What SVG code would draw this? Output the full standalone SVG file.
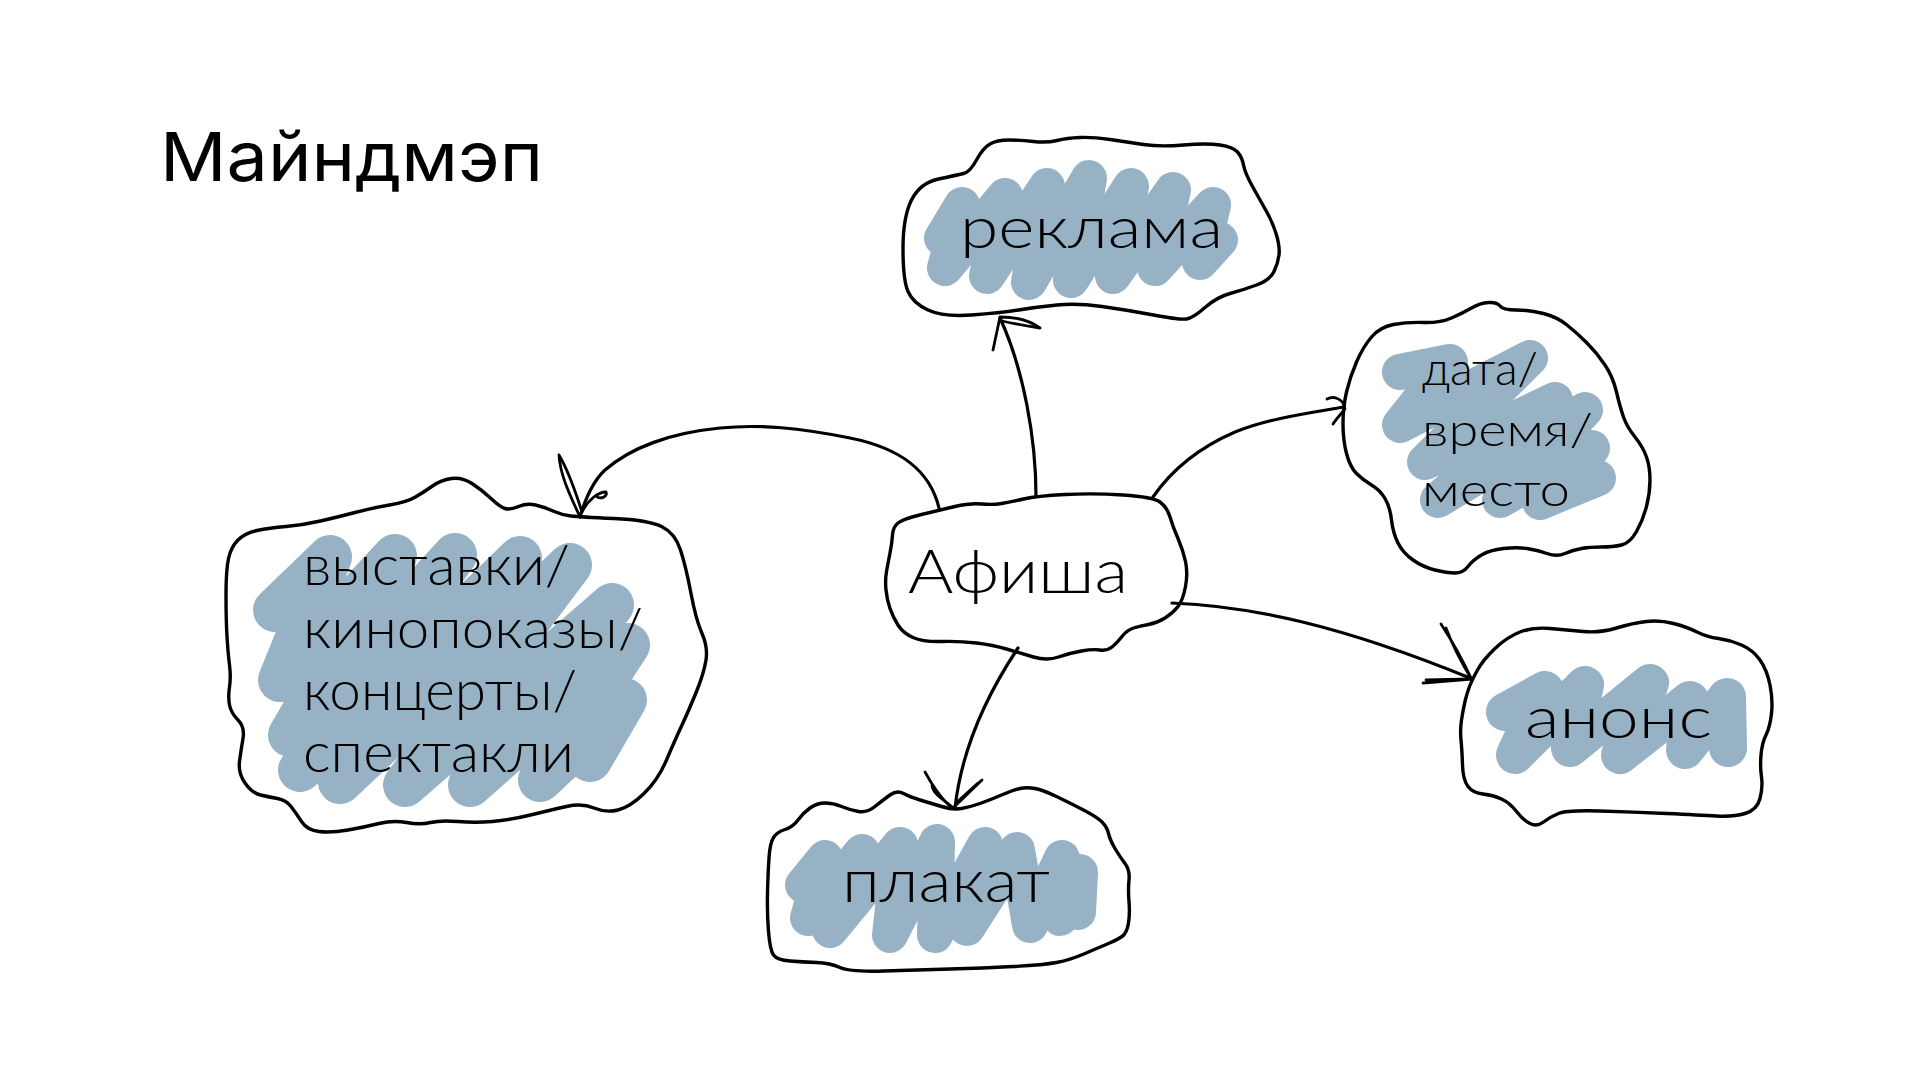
<svg xmlns="http://www.w3.org/2000/svg" width="1920" height="1080" viewBox="0 0 1920 1080">
<style>
.bg{fill:#ffffff}
.cloud{fill:#ffffff;stroke:#000;stroke-width:3.4;stroke-linejoin:round}
.scrib{fill:none;stroke:#97B2C5;stroke-linecap:round;stroke-linejoin:round}
.lbl{font-family:"Lato","Inter","Noto Sans",sans-serif;font-weight:300;fill:#000}
.title{font-family:"Inter","Noto Sans","DejaVu Sans",sans-serif;font-weight:400;fill:#000}
.conn{fill:none;stroke:#000;stroke-width:3.2;stroke-linecap:round;stroke-linejoin:round}
.head{fill:none;stroke:#000;stroke-width:2.8;stroke-linecap:round;stroke-linejoin:round}
</style>
<rect class="bg" x="0" y="0" width="1920" height="1080"/>
<text id="title" class="title" x="160" y="181" font-size="68" textLength="383" lengthAdjust="spacingAndGlyphs">Майндмэп</text>

<g id="node-reklama">
<path class="cloud" d="M 976.5,160 Q 983,148 990,144 Q 997,140 1008.5,140 Q 1020,140 1033.5,141.5 Q 1047,143 1057,140.5 Q 1067,138 1080,137.5 Q 1093,137 1110,139.5 Q 1127,142 1143.5,144.5 Q 1160,147 1183.5,145 Q 1207,143 1220,145 Q 1233,147 1237.5,152 Q 1242,157 1243.5,165 Q 1245,173 1252.5,186.5 Q 1260,200 1266.5,211.5 Q 1273,223 1276.5,235 Q 1280,247 1279,255 Q 1278,263 1274,271.5 Q 1270,280 1256.5,285 Q 1243,290 1230,293.5 Q 1217,297 1205,307.5 Q 1193,318 1186.5,319 Q 1180,320 1153.5,315 Q 1127,310 1102,306.5 Q 1077,303 1057,305 Q 1037,307 1018.5,310 Q 1000,313 971.5,315 Q 943,317 928,310 Q 913,303 908,291.5 Q 903,280 903,248.5 Q 903,217 911.5,200 Q 920,183 938.5,179 Q 957,175 963.5,173.5 Q 970,172 976.5,160 Z"/>
<path class="scrib" stroke-width="36" d="M 942,238 L 962,205 L 945,268 L 1005,196 L 987,276 L 1047,186 L 1029,282 L 1089,178 L 1071,280 L 1131,186 L 1113,276 L 1173,190 L 1155,268 L 1213,205 L 1200,262 L 1220,240"/>
<text class="lbl" x="960" y="248" font-size="58" textLength="263" lengthAdjust="spacingAndGlyphs">реклама</text>
</g>

<g id="node-afisha">
<path class="cloud" d="M 892.5,535 Q 893,527 898,523 Q 903,519 921.5,514.5 Q 940,510 955,506.5 Q 970,503 981.5,504 Q 993,505 1001.5,503.5 Q 1010,502 1023.5,499 Q 1037,496 1065,494.5 Q 1093,493 1123,495 Q 1153,497 1160,502 Q 1167,507 1170,517 Q 1173,527 1178,538.5 Q 1183,550 1185.5,561.5 Q 1188,573 1185.5,586.5 Q 1183,600 1178,606.5 Q 1173,613 1165,618 Q 1157,623 1148.5,624.5 Q 1140,626 1133.5,628 Q 1127,630 1122,636.5 Q 1117,643 1112,647 Q 1107,651 1100,650 Q 1093,649 1081.5,651 Q 1070,653 1058.5,657 Q 1047,661 1033.5,657 Q 1020,653 1006.5,649 Q 993,645 976.5,643 Q 960,641 941.5,641.5 Q 923,642 913,637.5 Q 903,633 898,625 Q 893,617 890,608.5 Q 887,600 886,590 Q 885,580 886.5,571.5 Q 888,563 890,553 Q 892,543 892.5,535 Z"/>
<text class="lbl" x="908" y="593" font-size="62" textLength="220" lengthAdjust="spacingAndGlyphs">Афиша</text>
</g>

<g id="node-vystavki">
<path class="cloud" d="M 571,516 Q 580,517 614,518.5 Q 648,520 661.5,526.5 Q 675,533 680.5,550 Q 686,567 691,593.5 Q 696,620 702,633.5 Q 708,647 706,660 Q 704,673 696.5,691.5 Q 689,710 682,725 Q 675,740 666.5,760 Q 658,780 644,793.5 Q 630,807 618,810 Q 606,813 594,808 Q 582,803 566.5,806.5 Q 551,810 530.5,815 Q 510,820 492.5,821.5 Q 475,823 458,821.5 Q 441,820 430.5,822.5 Q 420,825 406.5,822.5 Q 393,820 379,823.5 Q 365,827 348,830 Q 331,833 319,831.5 Q 307,830 301.5,821.5 Q 296,813 291,806.5 Q 286,800 277.5,798.5 Q 269,797 260.5,795 Q 252,793 245,783 Q 238,773 239.5,761.5 Q 241,750 243,738.5 Q 245,727 238,720 Q 231,713 229.5,705 Q 228,697 229.5,687 Q 231,677 229.5,665 Q 228,653 227,636.5 Q 226,620 226,595 Q 226,570 228.5,558.5 Q 231,547 238,540 Q 245,533 257,530.5 Q 269,528 286,526.5 Q 303,525 320.5,521 Q 338,517 355,512.5 Q 372,508 389.5,505 Q 407,502 415.5,497 Q 424,492 432.5,486 Q 441,480 451.5,478.5 Q 462,477 472,483.5 Q 482,490 491,498.5 Q 500,507 505,508.5 Q 510,510 518.5,506.5 Q 527,503 535.5,505 Q 544,507 553,511 Q 562,515 571,516 Z"/>
<path class="scrib" stroke-width="44" d="M 275,610 L 330,557 L 280,680 L 395,556 L 290,735 L 455,555 L 300,770 L 520,558 L 340,782 L 570,565 L 405,785 L 612,605 L 470,785 L 628,645 L 540,780 L 625,700 L 590,760"/>
<text class="lbl" font-size="55">
<tspan x="303" y="585" textLength="267" lengthAdjust="spacingAndGlyphs">выставки/</tspan>
<tspan x="303" y="648" textLength="340" lengthAdjust="spacingAndGlyphs">кинопоказы/</tspan>
<tspan x="303" y="710" textLength="274" lengthAdjust="spacingAndGlyphs">концерты/</tspan>
<tspan x="303" y="772" textLength="271" lengthAdjust="spacingAndGlyphs">спектакли</tspan>
</text>
</g>

<g id="node-data">
<path class="cloud" d="M 1343,423.5 Q 1343,407 1346.5,392 Q 1350,377 1356.5,362 Q 1363,347 1371.5,337 Q 1380,327 1393.5,324.5 Q 1407,322 1423.5,322.5 Q 1440,323 1451.5,318 Q 1463,313 1471.5,308 Q 1480,303 1488.5,302.5 Q 1497,302 1500,306 Q 1503,310 1516.5,310 Q 1530,310 1543.5,313.5 Q 1557,317 1567,325 Q 1577,333 1587,343 Q 1597,353 1605,365 Q 1613,377 1616.5,392 Q 1620,407 1623.5,417 Q 1627,427 1635,437 Q 1643,447 1646.5,457 Q 1650,467 1650,480 Q 1650,493 1646.5,506.5 Q 1643,520 1636.5,531.5 Q 1630,543 1621.5,545 Q 1613,547 1601.5,547 Q 1590,547 1581.5,548.5 Q 1573,550 1565,553.5 Q 1557,557 1547,553.5 Q 1537,550 1527,548.5 Q 1517,547 1503.5,548.5 Q 1490,550 1481.5,555 Q 1473,560 1468,566.5 Q 1463,573 1455,573 Q 1447,573 1435,570 Q 1423,567 1413,560 Q 1403,553 1398,543 Q 1393,533 1391.5,520 Q 1390,507 1385,498.5 Q 1380,490 1371.5,485 Q 1363,480 1356.5,473.5 Q 1350,467 1346.5,453.5 Q 1343,440 1343,423.5 Z"/>
<path class="scrib" stroke-width="36" d="M 1400,372 L 1450,362 L 1400,425 L 1530,358 L 1425,462 L 1555,400 L 1438,500 L 1585,410 L 1500,500 L 1592,448 L 1540,502 L 1598,478"/>
<text class="lbl" font-size="45">
<tspan x="1422" y="385" textLength="116" lengthAdjust="spacingAndGlyphs">дата/</tspan>
<tspan x="1422" y="446" textLength="171" lengthAdjust="spacingAndGlyphs">время/</tspan>
<tspan x="1422" y="506" textLength="148" lengthAdjust="spacingAndGlyphs">место</tspan>
</text>
</g>

<g id="node-anons">
<path class="cloud" d="M 1469.5,686.5 Q 1472,680 1477.5,670 Q 1483,660 1495,648.5 Q 1507,637 1520,632 Q 1533,627 1550,628.5 Q 1567,630 1583.5,631.5 Q 1600,633 1616.5,628 Q 1633,623 1646.5,621.5 Q 1660,620 1673.5,623.5 Q 1687,627 1697,632 Q 1707,637 1718.5,638.5 Q 1730,640 1741.5,645 Q 1753,650 1760,660 Q 1767,670 1770,685 Q 1773,700 1771.5,713.5 Q 1770,727 1766,735 Q 1762,743 1761,755 Q 1760,767 1761.5,777 Q 1763,787 1760,798.5 Q 1757,810 1745,813.5 Q 1733,817 1716.5,816 Q 1700,815 1666.5,813.5 Q 1633,812 1600,811 Q 1567,810 1558.5,813.5 Q 1550,817 1543.5,822 Q 1537,827 1530,823.5 Q 1523,820 1516.5,811.5 Q 1510,803 1501.5,799 Q 1493,795 1483,794 Q 1473,793 1468,786.5 Q 1463,780 1462.5,765 Q 1462,750 1461,740 Q 1460,730 1461.5,720 Q 1463,710 1465,701.5 Q 1467,693 1469.5,686.5 Z"/>
<path class="scrib" stroke-width="38" d="M 1505,712 L 1545,690 L 1515,755 L 1585,685 L 1570,748 L 1650,683 L 1620,755 L 1690,700 L 1685,750 L 1727,697 L 1728,748"/>
<text class="lbl" x="1525" y="738" font-size="58" textLength="187" lengthAdjust="spacingAndGlyphs">анонс</text>
</g>

<g id="node-plakat">
<path class="cloud" d="M 941.5,806.5 Q 953,810 961.5,808.5 Q 970,807 980,803.5 Q 990,800 1001.5,795 Q 1013,790 1020,788.5 Q 1027,787 1035,788.5 Q 1043,790 1056.5,796.5 Q 1070,803 1083.5,810 Q 1097,817 1102,822 Q 1107,827 1108.5,833.5 Q 1110,840 1115,848.5 Q 1120,857 1125,863.5 Q 1130,870 1129,880 Q 1128,890 1129,901.5 Q 1130,913 1128.5,923 Q 1127,933 1122,936.5 Q 1117,940 1108.5,943.5 Q 1100,947 1085,953.5 Q 1070,960 1056.5,962.5 Q 1043,965 1013,966.5 Q 983,968 950,969 Q 917,970 883.5,971 Q 850,972 840,967.5 Q 830,963 816.5,962.5 Q 803,962 790,961 Q 777,960 773.5,955 Q 770,950 768.5,931.5 Q 767,913 767.5,893 Q 768,873 769,858 Q 770,843 773.5,837.5 Q 777,832 785,829.5 Q 793,827 798,820 Q 803,813 810,808 Q 817,803 825,803 Q 833,803 841.5,806.5 Q 850,810 858.5,811.5 Q 867,813 875,806.5 Q 883,800 890,795 Q 897,790 903.5,793.5 Q 910,797 920,800 Q 930,803 941.5,806.5 Z"/>
<path class="scrib" stroke-width="36" d="M 803,885 L 825,858 L 808,918 L 862,852 L 830,930 L 900,845 L 890,935 L 937,842 L 935,935 L 985,845 L 967,928 L 1017,850 L 1030,925 L 1062,858 L 1060,918 L 1080,872 L 1078,912"/>
<text class="lbl" x="842" y="902" font-size="60" textLength="208" lengthAdjust="spacingAndGlyphs">плакат</text>
</g>

<g id="connectors">
<path class="conn" d="M 1036,496 C 1036,440 1024,370 1000,318"/>
<path class="head" d="M 993,350 L 1000,317 M 1001,317 Q 1025,317 1040,328 Q 1020,325 1002,321"/>
<path class="conn" d="M 939,508 C 930,470 900,448 850,438 C 800,428 760,424 720,428 C 670,433 630,448 605,470 C 592,482 585,500 580,517"/>
<path class="head" d="M 580,517 C 570,495 560,475 559,455 C 568,470 575,490 582,512 M 582,512 C 588,500 598,492 606,492 C 608,497 600,500 596,496"/>
<path class="conn" d="M 1153,497 C 1175,465 1205,445 1235,432 C 1270,418 1310,413 1344,407"/>
<path class="head" d="M 1327,399 C 1335,395 1344,400 1345,409 C 1341,414 1337,418 1333,424"/>
<path class="conn" d="M 1172,603 C 1250,606 1340,625 1470,678"/>
<path class="head" d="M 1441,624 Q 1458,650 1472,680 Q 1455,652 1446,628 M 1423,683 L 1472,679 L 1426,680"/>
<path class="conn" d="M 1018,648 C 990,690 962,745 955,808"/>
<path class="head" d="M 925,772 C 935,790 945,803 953,808 C 945,800 933,795 932,785 M 982,780 L 953,808 M 978,783 L 956,803"/>
</g>
</svg>
